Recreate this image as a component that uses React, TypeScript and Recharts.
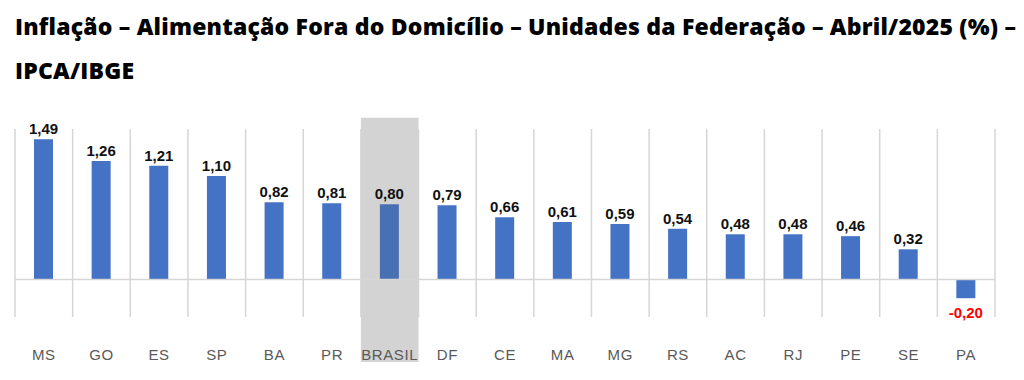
import { BarChart, Bar, XAxis, YAxis, CartesianGrid, ReferenceLine, ReferenceArea, LabelList, Cell } from 'recharts'

const states = ['MS', 'GO', 'ES', 'SP', 'BA', 'PR', 'BRASIL', 'DF', 'CE', 'MA', 'MG', 'RS', 'AC', 'RJ', 'PE', 'SE', 'PA']
const values = [1.49, 1.26, 1.21, 1.1, 0.82, 0.81, 0.8, 0.79, 0.66, 0.61, 0.59, 0.54, 0.48, 0.48, 0.46, 0.32, -0.2]
const highlight = 'BRASIL'

const data = states.map((uf, i) => ({ uf, value: values[i] }))

const fmt = (v: number) => v.toFixed(2).replace('.', ',')

const ValueLabel = (props: any) => {
  const { x, y, width, height, value } = props
  const top = Math.min(y, y + height)
  const bottom = Math.max(y, y + height)
  const neg = value < 0
  return (
    <text
      x={x + width / 2}
      y={neg ? bottom + 20 : top - 5}
      textAnchor="middle"
      fontSize={15}
      fontWeight="bold"
      fontFamily="'Liberation Sans', Arial, sans-serif"
      fill={neg ? '#ff0000' : '#111'}
    >
      {fmt(value)}
    </text>
  )
}

const StateTick = (props: any) => {
  const { x, y, payload } = props
  return (
    <text
      x={x}
      y={y + 41}
      textAnchor="middle"
      fontSize={15}
      letterSpacing={0.6}
      fontFamily="'Liberation Sans', Arial, sans-serif"
      fill="#595959"
    >
      {payload.value}
    </text>
  )
}

// lines between categories, not through their centres
const boundaries = ({ offset }: any) => {
  const step = offset.width / states.length
  return states.map((_, i) => offset.left + i * step).concat(offset.left + offset.width)
}

export default function App() {
  return (
    <div style={{ position: 'fixed', left: 0, top: 0, width: 1024, height: 380, background: '#fff' }}>
      <div
        style={{
          position: 'absolute',
          left: 15,
          top: 4,
          fontFamily: "'Open Sans', sans-serif",
          fontWeight: 800,
          fontSize: 23,
          letterSpacing: 0.2,
          lineHeight: '44px',
          color: '#000',
          width: 1010,
          whiteSpace: 'nowrap',
        }}
      >
        Inflação – Alimentação Fora do Domicílio – Unidades da Federação – Abril/2025 (%) –<br />
        IPCA/IBGE
      </div>
      <BarChart
        width={1024}
        height={380}
        data={data}
        margin={{ top: 129, right: 29, left: 15, bottom: 27 }}
      >
        <CartesianGrid
          horizontal={false}
          stroke="#d6d6d6"
          strokeWidth={1.5}
          verticalCoordinatesGenerator={boundaries}
        />
        <ReferenceArea
          x1={highlight}
          x2={highlight}
          y1={-0.88}
          y2={1.72}
          ifOverflow="visible"
          fill="#d3d3d3"
          fillOpacity={1}
          stroke="none"
        />
        <XAxis dataKey="uf" axisLine={false} tickLine={false} tickSize={0} height={36} tick={<StateTick />} interval={0} />
        <YAxis hide domain={[-0.4, 1.6]} />
        <ReferenceLine y={0} stroke="#d6d6d6" strokeWidth={1.5} />
        <Bar dataKey="value" barSize={19} isAnimationActive={false}>
          {data.map((d) => (
            <Cell key={d.uf} fill={d.uf === highlight ? '#4a70b4' : '#4472c4'} />
          ))}
          <LabelList dataKey="value" content={<ValueLabel />} />
        </Bar>
      </BarChart>
    </div>
  )
}
